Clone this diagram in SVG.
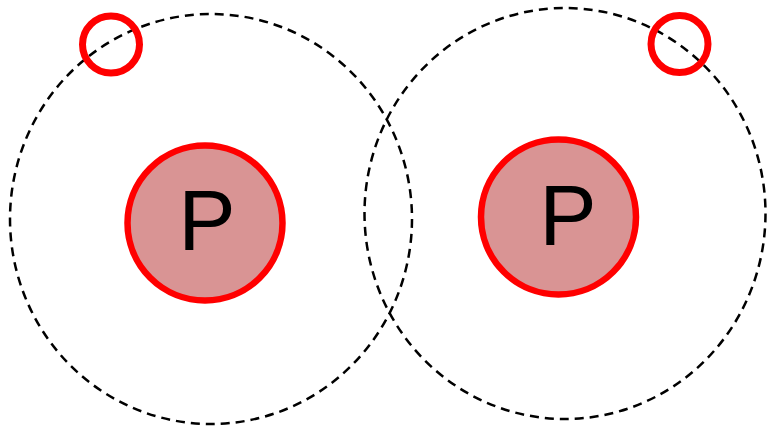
<svg xmlns="http://www.w3.org/2000/svg" width="768" height="429" viewBox="0 0 768 429">
<style>
.orbit{fill:none;stroke:#000;stroke-width:2.5;stroke-dasharray:9 6}
.proton{fill:#d99494;stroke:#ff0000;stroke-width:6.5}
.electron{fill:none;stroke:#ff0000;stroke-width:7}
.lbl{font-family:"Liberation Sans",Arial,sans-serif;font-size:86px;fill:#000;text-anchor:middle}
</style>
<rect width="768" height="429" fill="#fff"/>
<g id="connectors">
<ellipse class="orbit" cx="211" cy="219" rx="201" ry="205"/>
<ellipse class="orbit" cx="565" cy="213.5" rx="200.5" ry="205.5"/>
</g>
<g id="proton-left">
<circle class="proton" cx="205" cy="223" r="77.5"/>
<text class="lbl" x="207" y="250">P</text>
</g>
<g id="proton-right">
<circle class="proton" cx="558.5" cy="217" r="77.5"/>
<text class="lbl" x="568" y="245">P</text>
</g>
<g id="electron-left">
<circle class="electron" cx="111" cy="44.5" r="28.5"/>
</g>
<g id="electron-right">
<circle class="electron" cx="679.5" cy="44" r="28.5"/>
</g>
</svg>
